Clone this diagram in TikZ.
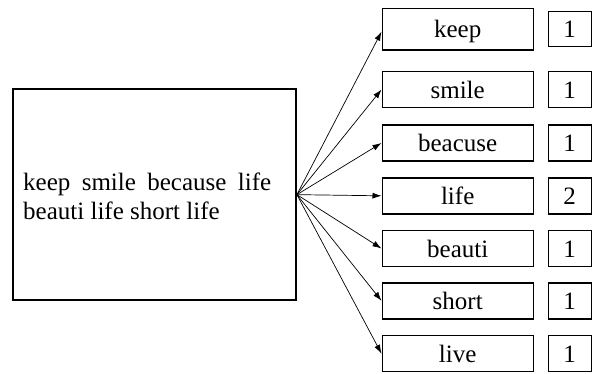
\documentclass[tikz,border=0pt]{standalone}
\usepackage{fontspec}
\setmainfont{Liberation Serif}
\usetikzlibrary{arrows.meta}
\begin{document}
\begin{tikzpicture}[x=1pt,y=-1pt,
  txtfont/.style={font=\fontsize{25}{29}\selectfont},
  wbox/.style={draw,line width=1.4pt,minimum width=151pt,minimum height=36pt,inner sep=0pt,txtfont,text height=17pt,text depth=0pt},
  nbox/.style={wbox,minimum width=43pt},
  conn/.style={-{Latex[length=9pt,width=6pt]},line width=0.7pt}]
\useasboundingbox (0,0) rectangle (594,373);
\node[draw,line width=1.8pt,minimum width=282.7pt,minimum height=210.7pt,inner sep=0pt] (big) at (154.65,194.65) {};
\node[anchor=base west,align=left,inner sep=0pt,txtfont] (txt) at (23,219) {\makebox[248pt][s]{keep smile because life}\\beauti life short life};
% word boxes
\node[wbox,minimum height=41.7pt] (keep) at (457.7,29.2) {keep};
\node[wbox] (smile) at (457.7,89.5) {smile};
\node[wbox] (beacuse) at (457.7,143) {beacuse};
\node[wbox] (life) at (457.7,195.8) {life};
\node[wbox] (beauti) at (457.7,248.5) {beauti};
\node[wbox] (short) at (457.7,300.8) {short};
\node[wbox] (live) at (457.7,353.7) {live};
% number boxes
\node[nbox,minimum height=35pt] (nkeep) at (569.7,29.2) {1};
\node[nbox] (nsmile) at (569.7,89.5) {1};
\node[nbox] (nbeacuse) at (569.7,143) {1};
\node[nbox] (nlife) at (569.7,195.8) {2};
\node[nbox] (nbeauti) at (569.7,248.5) {1};
\node[nbox] (nshort) at (569.7,300.8) {1};
\node[nbox] (nlive) at (569.7,353.7) {1};
% connectors
\draw[conn] (big.east) -- ([yshift=-2.5pt]keep.west);
\draw[conn] (big.east) -- (smile.west);
\draw[conn] (big.east) -- (beacuse.west);
\draw[conn] (big.east) -- (life.west);
\draw[conn] (big.east) -- (beauti.west);
\draw[conn] (big.east) -- (short.west);
\draw[conn] (big.east) -- (live.west);
\end{tikzpicture}
\end{document}
